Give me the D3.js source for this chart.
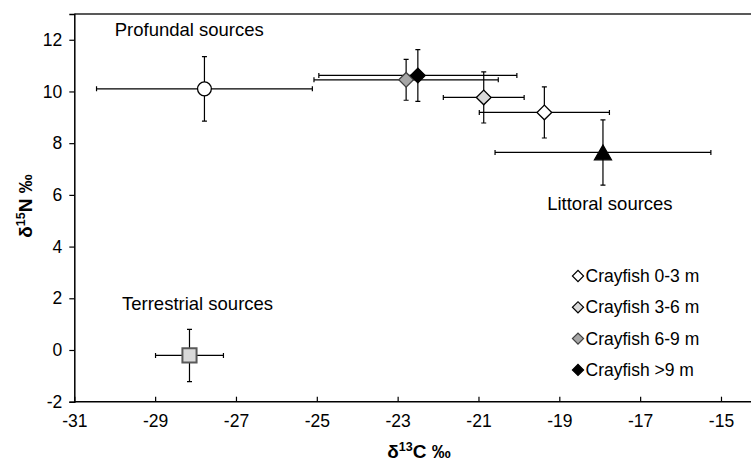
<!DOCTYPE html>
<html><head><meta charset="utf-8">
<script src="https://cdn.jsdelivr.net/npm/d3@7"></script>
<style>body{margin:0;background:#fff}svg{display:block;font-family:"Liberation Sans",Arial,sans-serif}</style>
</head><body><svg id="c" width="751" height="463"></svg>
<script>
const groups = ["Profundal sources","Terrestrial sources","Littoral sources","Crayfish 0-3 m","Crayfish 3-6 m","Crayfish 6-9 m","Crayfish >9 m"];
const d13C    = [-27.78, -28.15, -17.92, -19.37, -20.87, -22.79, -22.50];
const d13C_sd = [2.67, 0.84, 2.67, 1.61, 1.00, 2.28, 2.45];
const d15N    = [10.10, -0.21, 7.64, 9.19, 9.77, 10.45, 10.62];
const d15N_sd = [1.25, 1.01, 1.26, 0.99, 0.99, 0.79, 1.00];
const shapes  = ["circle","square","triangle","diamond","diamond","diamond","diamond"];
const fills   = ["#ffffff","#d9d9d9","#000000","#ffffff","#d9d9d9","#a6a6a6","#000000"];
const strokes = ["#000000","#595959","#000000","#000000","#000000","#404040","#000000"];
const xTicks = [-31,-29,-27,-25,-23,-21,-19,-17,-15];
const yTicks = [-2,0,2,4,6,8,10,12];
const legendItems = ["Crayfish 0-3 m","Crayfish 3-6 m","Crayfish 6-9 m","Crayfish >9 m"];
const annotations = [{t:"Profundal sources",x:-30.0,y:12.15},{t:"Littoral sources",x:-19.3,y:5.42},{t:"Terrestrial sources",x:-29.82,y:1.55}];

const svg = d3.select("#c");
const x = d3.scaleLinear().domain([-31,-14]).range([74.3, 761.4]);
const y = d3.scaleLinear().domain([-2,13]).range([401.7, 13.9]);
const fmt = v => String(v);

svg.append("line").attr("x1",x(-31)).attr("x2",751).attr("y1",y(13)).attr("y2",y(13)).attr("stroke","#222").attr("stroke-width",1.5);

const xa = svg.append("g").attr("transform",`translate(0,${y(-2)})`)
  .call(d3.axisBottom(x).tickValues(xTicks).tickSizeOuter(0).tickSize(-5).tickPadding(13).tickFormat(fmt));
const ya = svg.append("g").attr("transform",`translate(${x(-31)},0)`)
  .call(d3.axisLeft(y).tickValues(yTicks).tickSizeOuter(0).tickSize(5).tickPadding(4).tickFormat(fmt));
[xa,ya].forEach(a=>{
  a.select(".domain").attr("stroke","#000").attr("stroke-width",1.5);
  a.selectAll(".tick line").attr("stroke","#000").attr("stroke-width",1.2);
  a.selectAll(".tick text").attr("font-size",17.5).attr("fill","#000").attr("font-family","Liberation Sans, Arial, sans-serif");
});
xa.selectAll(".tick text").attr("dy","0.71em");
ya.selectAll(".tick text").attr("dx","-3");
xa.select(".domain").attr("d",`M${x(-31)},0H751`);

const xt = svg.append("text").attr("x",419).attr("y",458).attr("text-anchor","middle").attr("font-weight","bold").attr("font-size",19);
xt.append("tspan").text("δ");
xt.append("tspan").attr("font-size",12.5).attr("dy",-7).text("13");
xt.append("tspan").attr("dy",7).text("C ‰");
const yt = svg.append("text").attr("transform","translate(32,206) rotate(-90)").attr("text-anchor","middle").attr("font-weight","bold").attr("font-size",19);
yt.append("tspan").text("δ");
yt.append("tspan").attr("font-size",12.5).attr("dy",-7).text("15");
yt.append("tspan").attr("dy",7).text("N ‰");

const cap = 2.5;
const eb = svg.append("g").attr("stroke","#000").attr("stroke-width",1.2);
groups.forEach((g,i)=>{
  const cx=x(d13C[i]), cy=y(d15N[i]);
  const xl=x(d13C[i]-d13C_sd[i]), xr=x(d13C[i]+d13C_sd[i]);
  const yt2=y(d15N[i]+d15N_sd[i]), yb=y(d15N[i]-d15N_sd[i]);
  eb.append("path").attr("fill","none").attr("d",
    `M${xl},${cy}H${xr}M${xl},${cy-cap}V${cy+cap}M${xr},${cy-cap}V${cy+cap}`+
    `M${cx},${yt2}V${yb}M${cx-cap},${yt2}H${cx+cap}M${cx-cap},${yb}H${cx+cap}`);
});

const symType = {circle:d3.symbolCircle, square:d3.symbolSquare, triangle:d3.symbolTriangle, diamond:d3.symbolSquare};
const symSize = {circle:150, square:200, triangle:125, diamond:108};
groups.forEach((g,i)=>{
  const s = shapes[i];
  svg.append("path")
    .attr("d", d3.symbol().type(symType[s]).size(symSize[s])())
    .attr("transform",`translate(${x(d13C[i])},${y(d15N[i]) + (s==="triangle"?2.4:0)})` + (s==="diamond"?" rotate(45)":""))
    .attr("fill",fills[i]).attr("stroke",strokes[i]).attr("stroke-width", s==="square"?2:1.3);
});

annotations.forEach(a=>{
  svg.append("text").attr("x",x(a.x)).attr("y",y(a.y)).attr("font-size",18.5).attr("fill","#000").text(a.t);
});

const lg = svg.append("g");
legendItems.forEach((t,j)=>{
  const i = groups.indexOf(t);
  const ly = 276 + j*31.3;
  lg.append("path").attr("d",d3.symbol().type(d3.symbolSquare).size(62)())
    .attr("transform",`translate(578,${ly}) rotate(45)`)
    .attr("fill",fills[i]).attr("stroke",strokes[i]).attr("stroke-width",1.2);
  lg.append("text").attr("x",585.5).attr("y",ly).attr("dy","0.35em").attr("font-size",17.5).text(t);
});
</script></body></html>
